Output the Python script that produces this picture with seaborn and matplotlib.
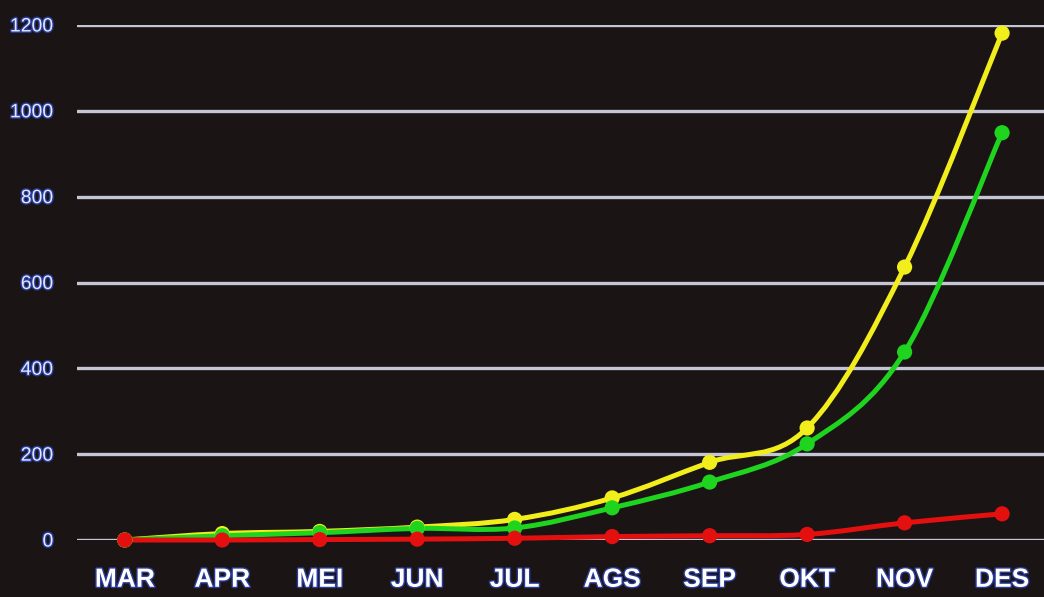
import numpy as np
import pandas as pd
import matplotlib
matplotlib.use("Agg")
import matplotlib.pyplot as plt
import matplotlib.patheffects as pe
from matplotlib.path import Path
from matplotlib.patches import PathPatch
import seaborn as sns

# data
months = ["MAR", "APR", "MEI", "JUN", "JUL", "AGS", "SEP", "OKT", "NOV", "DES"]
yellow_vals = [0, 15, 20, 30, 48, 98, 181, 261, 636, 1181]
green_vals = [0, 10, 17, 27, 28, 75, 135, 224, 438, 949]
red_vals = [0, 0, 1, 2, 4, 8, 10, 13, 40, 61]

series = {"yellow": yellow_vals, "green": green_vals, "red": red_vals}
colors = {"yellow": "#f2ee1c", "green": "#1fd41f", "red": "#e41010"}

rows = []
for name, vals in series.items():
    for i, v in enumerate(vals):
        rows.append({"series": name, "x": i, "value": v})
df = pd.DataFrame(rows)

bg = "#1b1415"
sns.set_style("dark", {"axes.facecolor": bg, "figure.facecolor": bg})
plt.rcParams["font.family"] = ["Liberation Sans", "DejaVu Sans"]

fig = plt.figure(figsize=(10.44, 5.97), dpi=100)
ax = fig.add_axes([77 / 1044, 1 - 540 / 597, 1 - 77 / 1044, 515 / 597])
ax.set_facecolor(bg)


def smooth_path(xs, ys, t=0.17):
    # catmull-rom style bezier through the points (like a smoothed line)
    xs = np.asarray(xs, float)
    ys = np.asarray(ys, float)
    verts = [(xs[0], ys[0])]
    codes = [Path.MOVETO]
    n = len(xs)
    for i in range(n - 1):
        p0 = i - 1 if i > 0 else i
        p3 = i + 2 if i + 2 < n else i + 1
        c1 = (xs[i] + (xs[i + 1] - xs[p0]) * t, ys[i] + (ys[i + 1] - ys[p0]) * t)
        c2 = (xs[i + 1] - (xs[p3] - xs[i]) * t, ys[i + 1] - (ys[p3] - ys[i]) * t)
        verts += [c1, c2, (xs[i + 1], ys[i + 1])]
        codes += [Path.CURVE4] * 3
    return Path(verts, codes)


order = ["yellow", "green", "red"]
for name in order:
    sub = df[df["series"] == name]
    patch = PathPatch(smooth_path(sub["x"], sub["value"]), facecolor="none",
                      edgecolor=colors[name], lw=3.6, capstyle="round",
                      joinstyle="round", clip_on=False, zorder=3)
    ax.add_patch(patch)

sns.scatterplot(data=df, x="x", y="value", hue="series", hue_order=order,
                palette=colors, s=120, edgecolor="none", legend=False,
                ax=ax, zorder=4, clip_on=False)

ax.set_xlim(-0.49, 9.43)
ax.set_ylim(0, 1200)
ax.set_yticks(range(0, 1201, 200))
ax.set_xticks(range(len(months)))
ax.set_xticklabels(months)
ax.yaxis.grid(True, color="#c4c6d6", lw=2.4)
ax.xaxis.grid(False)
ax.set_axisbelow(True)
for s in ax.spines.values():
    s.set_visible(False)

ax.tick_params(axis="x", length=0, pad=20, labelsize=19, labelcolor="white")
ax.tick_params(axis="y", length=0, pad=17, labelsize=14, labelcolor="#dfe8ff")
glow = [pe.withStroke(linewidth=2, foreground="#2a3c9a")]
for lab in ax.get_xticklabels():
    lab.set_fontweight("bold")
    lab.set_path_effects(glow)
for lab in ax.get_yticklabels():
    lab.set_path_effects(glow)

ax.set_xlabel("")
ax.set_ylabel("")

plt.savefig("out.png", dpi=100, facecolor=bg)
